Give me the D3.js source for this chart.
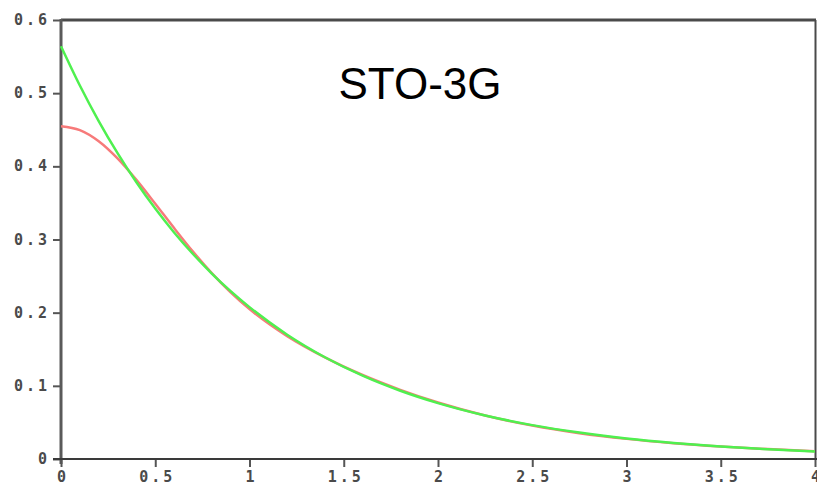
<!DOCTYPE html>
<html>
<head>
<meta charset="utf-8">
<script src="https://cdn.jsdelivr.net/npm/d3@7"></script>
<style>
  html, body { margin: 0; padding: 0; background: #fff; }
  svg { display: block; }
</style>
</head>
<body>
<svg id="chart" width="817" height="485"></svg>
<script>
// Radial distance r (bohr) sampled along the curves
const radius = [0, 0.1, 0.2, 0.3, 0.4, 0.5, 0.6, 0.7, 0.8, 0.9, 1.0, 1.2, 1.4, 1.6, 1.8, 2.0, 2.25, 2.5, 2.75, 3.0, 3.25, 3.5, 3.75, 4.0];
// Slater-type 1s orbital (green)
const slater = [0.5642, 0.5105, 0.4619, 0.4180, 0.3782, 0.3422, 0.3096, 0.2802, 0.2535, 0.2294, 0.2076, 0.1699, 0.1391, 0.1139, 0.0933, 0.0764, 0.0595, 0.0463, 0.0361, 0.0281, 0.0219, 0.0170, 0.0133, 0.0103];
// Contracted STO-3G Gaussian fit (red)
const sto3g = [0.4549, 0.4496, 0.4344, 0.4109, 0.3815, 0.3489, 0.3156, 0.2835, 0.2541, 0.2278, 0.2049, 0.1678, 0.1388, 0.1148, 0.0945, 0.0772, 0.0595, 0.0457, 0.0353, 0.0275, 0.0216, 0.0171, 0.0135, 0.0107];
const xTicks = [0, 0.5, 1, 1.5, 2, 2.5, 3, 3.5, 4];
const xTickLabels = ["0", "0.5", "1", "1.5", "2", "2.5", "3", "3.5", "4"];
const yTicks = [0, 0.1, 0.2, 0.3, 0.4, 0.5, 0.6];
const yTickLabels = ["0", "0.1", "0.2", "0.3", "0.4", "0.5", "0.6"];
const title = "STO-3G";

const svg = d3.select("#chart");
const plotLeft = 61, plotRight = 815, plotTop = 20, plotBottom = 459;

const x = d3.scaleLinear().domain([0, 4]).range([plotLeft, plotRight]);
const y = d3.scaleLinear().domain([0, 0.6]).range([plotBottom, plotTop]);

const tickFont = "'DejaVu Sans Mono', monospace";
const tickSpacing = 3;

// frame: top and right edges
svg.append("line").attr("x1", plotLeft).attr("x2", plotRight + 1).attr("y1", plotTop).attr("y2", plotTop)
  .attr("stroke", "#4a4a4a").attr("stroke-width", 3);
svg.append("line").attr("x1", plotRight + 0.5).attr("x2", plotRight + 0.5).attr("y1", plotTop).attr("y2", plotBottom)
  .attr("stroke", "#4a4a4a").attr("stroke-width", 2);

// y axis
const yAxis = d3.axisLeft(y).tickValues(yTicks).tickSize(8).tickPadding(3)
  .tickFormat((d, i) => yTickLabels[i]);
const gy = svg.append("g").attr("transform", `translate(${plotLeft},0)`).call(yAxis);
gy.select(".domain").remove();
gy.selectAll(".tick line").attr("stroke", "#555").attr("stroke-width", 2);
gy.selectAll(".tick text").attr("font-family", tickFont).attr("font-weight", "bold")
  .attr("font-size", 15).attr("letter-spacing", tickSpacing + "px").attr("fill", "#4a4a4a")
  .attr("dy", "0.3em");
svg.append("line").attr("x1", plotLeft).attr("x2", plotLeft).attr("y1", plotTop - 1).attr("y2", plotBottom + 5)
  .attr("stroke", "#5a5a5a").attr("stroke-width", 3);

// x axis
const xAxis = d3.axisBottom(x).tickValues(xTicks).tickSize(8).tickPadding(5)
  .tickFormat((d, i) => xTickLabels[i]);
const gx = svg.append("g").attr("transform", `translate(0,${plotBottom})`).call(xAxis);
gx.select(".domain").remove();
gx.selectAll(".tick line").attr("stroke", "#555").attr("stroke-width", 2);
gx.selectAll(".tick text").attr("font-family", tickFont).attr("font-weight", "bold")
  .attr("font-size", 15).attr("letter-spacing", tickSpacing + "px").attr("fill", "#4a4a4a")
  .attr("y", 23).attr("dy", 0).attr("dx", tickSpacing / 2);
svg.append("line").attr("x1", plotLeft - 8).attr("x2", plotRight + 2).attr("y1", plotBottom).attr("y2", plotBottom)
  .attr("stroke", "#3a3a3a").attr("stroke-width", 2);

// curves
const line = d3.line().x((d, i) => x(radius[i])).y(d => y(d)).curve(d3.curveMonotoneX);
svg.append("path").datum(sto3g).attr("d", line).attr("fill", "none")
  .attr("stroke", "#f77a7a").attr("stroke-width", 2.5);
svg.append("path").datum(slater).attr("d", line).attr("fill", "none")
  .attr("stroke", "#4ff04f").attr("stroke-width", 2.5);

// title
svg.append("text").attr("x", 420).attr("y", 99).attr("text-anchor", "middle")
  .attr("font-family", "'Liberation Sans', Arial, sans-serif").attr("font-size", 44)
  .attr("fill", "#000").text(title);
</script>
</body>
</html>
